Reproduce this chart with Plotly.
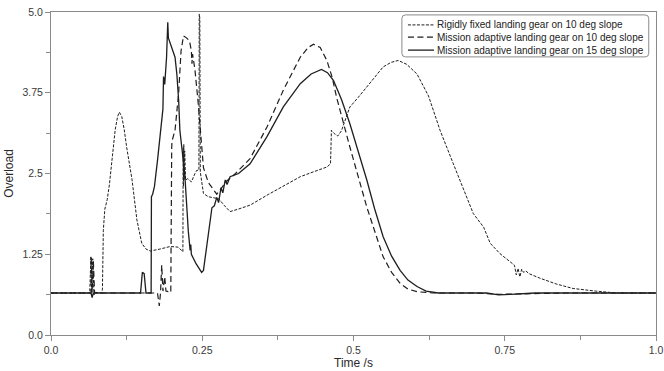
import plotly.graph_objects as go

# ---------------- data ----------------
t_rigid = [0.0, 0.064, 0.066, 0.067, 0.069, 0.071, 0.073, 0.084, 0.085, 0.0865, 0.089, 0.093,
           0.0967, 0.101, 0.106, 0.110, 0.113, 0.117, 0.121, 0.125, 0.134, 0.142, 0.150, 0.157,
           0.164, 0.180, 0.197, 0.210, 0.218, 0.2185, 0.219, 0.2195, 0.220, 0.221, 0.2225, 0.226,
           0.232, 0.238, 0.241, 0.2445, 0.245, 0.2455, 0.246, 0.2468, 0.252, 0.260, 0.277, 0.287,
           0.296, 0.310, 0.329, 0.360, 0.390, 0.412, 0.435, 0.456, 0.462, 0.4635, 0.468, 0.474,
           0.480, 0.494, 0.508, 0.522, 0.535, 0.549, 0.562, 0.574, 0.588, 0.605, 0.624, 0.643,
           0.665, 0.687, 0.698, 0.715, 0.726, 0.742, 0.759, 0.766, 0.769, 0.772, 0.775, 0.778,
           0.781, 0.785, 0.790, 0.808, 0.835, 0.863, 0.900, 0.935, 0.970, 1.0]
v_rigid = [0.65, 0.65, 1.22, 0.66, 1.18, 0.62, 0.66, 0.65, 0.71, 1.62, 1.95, 2.10,
           2.34, 2.70, 3.17, 3.38, 3.45, 3.38, 3.18, 2.91, 2.40, 1.78, 1.42, 1.33,
           1.30, 1.33, 1.37, 1.36, 1.29, 2.90, 2.30, 2.95, 2.40, 2.85, 2.40, 2.42,
           2.37, 2.50, 2.55, 2.55, 4.97, 2.60, 4.90, 2.52, 2.19, 2.14, 2.11, 2.00,
           1.91, 1.95, 2.01, 2.18, 2.34, 2.45, 2.53, 2.60, 2.65, 3.17, 3.12, 3.08,
           3.16, 3.53, 3.68, 3.84, 4.00, 4.15, 4.22, 4.25, 4.19, 4.04, 3.70, 3.17,
           2.65, 2.14, 1.88, 1.67, 1.42, 1.26, 1.13, 1.08, 0.93, 1.03, 0.90, 1.02,
           0.97, 0.99, 0.95, 0.88, 0.79, 0.72, 0.68, 0.65, 0.65, 0.65]

t_adapt10 = [0.0, 0.066, 0.0665, 0.068, 0.070, 0.072, 0.176, 0.179, 0.181, 0.183, 0.185, 0.188,
             0.190, 0.198, 0.1995, 0.200, 0.205, 0.211, 0.215, 0.219, 0.224, 0.229, 0.232, 0.233,
             0.234, 0.238, 0.243, 0.248, 0.252, 0.260, 0.274, 0.280, 0.290, 0.305, 0.329, 0.357,
             0.384, 0.412, 0.425, 0.434, 0.445, 0.456, 0.465, 0.472, 0.494, 0.522, 0.549, 0.563,
             0.577, 0.590, 0.605, 0.632, 0.700, 0.740, 0.780, 0.850, 1.0]
v_adapt10 = [0.65, 0.65, 1.20, 0.66, 1.15, 0.65, 0.65, 0.45, 0.65, 1.08, 0.68, 0.90,
             0.68, 0.66, 2.90, 3.00, 3.17, 3.75, 4.40, 4.63, 4.60, 4.55, 4.40, 4.20,
             4.35, 4.10, 3.62, 3.00, 2.59, 2.36, 2.18, 2.25, 2.38, 2.50, 2.73, 3.22,
             3.79, 4.30, 4.45, 4.50, 4.45, 4.25, 3.98, 3.68, 2.91, 1.98, 1.21, 0.97,
             0.80, 0.71, 0.67, 0.65, 0.65, 0.63, 0.64, 0.65, 0.65]

t_adapt15 = [0.0, 0.066, 0.068, 0.070, 0.148, 0.151, 0.154, 0.157, 0.1655, 0.166, 0.168, 0.171,
             0.176, 0.181, 0.185, 0.186, 0.188, 0.191, 0.193, 0.194, 0.197, 0.201, 0.205, 0.208,
             0.211, 0.213, 0.221, 0.227, 0.230, 0.231, 0.232, 0.240, 0.249, 0.252, 0.256, 0.260,
             0.266, 0.270, 0.274, 0.277, 0.281, 0.284, 0.288, 0.291, 0.296, 0.310, 0.329, 0.357,
             0.384, 0.412, 0.430, 0.447, 0.457, 0.467, 0.480, 0.494, 0.508, 0.522, 0.535, 0.549,
             0.563, 0.577, 0.590, 0.605, 0.620, 0.640, 0.720, 0.740, 0.760, 0.800, 1.0]
v_adapt15 = [0.65, 0.65, 0.58, 0.65, 0.65, 0.97, 0.95, 0.65, 0.65, 2.14, 2.18, 2.30,
             2.70, 3.17, 3.50, 4.00, 3.88, 4.30, 4.84, 4.60, 4.51, 4.40, 4.30, 4.04,
             3.63, 3.17, 2.50, 1.60, 1.31, 1.40, 1.25, 1.10, 0.97, 1.00, 1.30, 1.60,
             1.97, 2.00, 2.13, 2.05, 2.28, 2.20, 2.40, 2.33, 2.45, 2.50, 2.65, 3.07,
             3.53, 3.89, 4.04, 4.11, 4.06, 3.94, 3.65, 3.27, 2.85, 2.40, 1.95, 1.52,
             1.22, 1.00, 0.85, 0.75, 0.68, 0.65, 0.65, 0.62, 0.63, 0.65, 0.65]

series_names = ["Rigidly fixed landing gear on 10 deg slope",
                "Mission adaptive landing gear on 10 deg slope",
                "Mission adaptive landing gear on 15 deg slope"]

x_tick_vals = [0.0, 0.25, 0.5, 0.75, 1.0]
x_tick_text = ["0.0", "0.25", "0.5", "0.75", "1.0"]
y_tick_vals = [0.0, 1.25, 2.5, 3.75, 5.0]
y_tick_text = ["0.0", "1.25", "2.5", "3.75", "5.0"]

assert len(t_rigid) == len(v_rigid)
assert len(t_adapt10) == len(v_adapt10)
assert len(t_adapt15) == len(v_adapt15)

# ---------------- figure ----------------
FONT = "Arial, 'Liberation Sans', sans-serif"
INK = "#1e1e1e"
styles = [dict(width=1.0, dash="3px,1.5px"),
          dict(width=1.2, dash="6px,3.5px"),
          dict(width=1.3, dash="solid")]

fig = go.Figure()
for (tt, vv), name, st in zip([(t_rigid, v_rigid), (t_adapt10, v_adapt10), (t_adapt15, v_adapt15)],
                              series_names, styles):
    fig.add_trace(go.Scatter(x=tt, y=vv, mode="lines", name=name,
                             line=dict(color=INK, width=st["width"], dash=st["dash"]),
                             showlegend=False))

axis_common = dict(showline=True, linecolor="#8a8a8a", linewidth=1, mirror=True,
                   showgrid=False, zeroline=False, ticks="outside", ticklen=5,
                   tickcolor="#8a8a8a", tickfont=dict(family=FONT, size=10.5, color="#3a3a3a"))

fig.update_xaxes(range=[0, 1], tickmode="array", tickvals=x_tick_vals, ticktext=x_tick_text,
                 minor=dict(ticks="outside", ticklen=4, tickcolor="#8a8a8a",
                            tickvals=[0.125, 0.375, 0.625, 0.875]),
                 title=dict(text="Time /s", font=dict(family=FONT, size=12, color="#2a2a2a"),
                            standoff=4),
                 **axis_common)
fig.update_yaxes(range=[0, 5], tickmode="array", tickvals=y_tick_vals, ticktext=y_tick_text,
                 minor=dict(ticks="outside", ticklen=4, tickcolor="#8a8a8a",
                            tickvals=[0.625, 1.875, 3.125, 4.375]),
                 title=dict(text="Overload", font=dict(family=FONT, size=12, color="#2a2a2a"),
                            standoff=6),
                 **axis_common)

# ----- custom legend (box, sample lines, text) -----
x0, x1, y0, y1 = 0.580, 0.988, 0.861, 0.991
rx, ry = 0.006, 0.011
path = (f"M {x0+rx},{y0} L {x1-rx},{y0} Q {x1},{y0} {x1},{y0+ry} L {x1},{y1-ry} "
        f"Q {x1},{y1} {x1-rx},{y1} L {x0+rx},{y1} Q {x0},{y1} {x0},{y1-ry} "
        f"L {x0},{y0+ry} Q {x0},{y0} {x0+rx},{y0} Z")
shapes = [dict(type="path", xref="paper", yref="paper", path=path,
               line=dict(color="#8a8a8a", width=1), fillcolor="white", layer="above")]
annotations = []
rows = [0.960, 0.922, 0.882]
for yy, name, st in zip(rows, series_names, styles):
    shapes.append(dict(type="line", xref="paper", yref="paper", x0=0.59, x1=0.633, y0=yy, y1=yy,
                       line=dict(color=INK, width=st["width"], dash=st["dash"]), layer="above"))
    annotations.append(dict(xref="paper", yref="paper", x=0.634, y=yy, xanchor="left",
                            yanchor="middle", text=name, showarrow=False,
                            font=dict(family=FONT, size=10, color="#222222")))

fig.update_layout(width=664, height=371, margin=dict(l=51, r=8, t=12, b=36, autoexpand=False),
                  paper_bgcolor="white", plot_bgcolor="white",
                  font=dict(family=FONT, size=11, color="#2a2a2a"),
                  shapes=shapes, annotations=annotations, showlegend=False)

fig.write_html("out.html")
